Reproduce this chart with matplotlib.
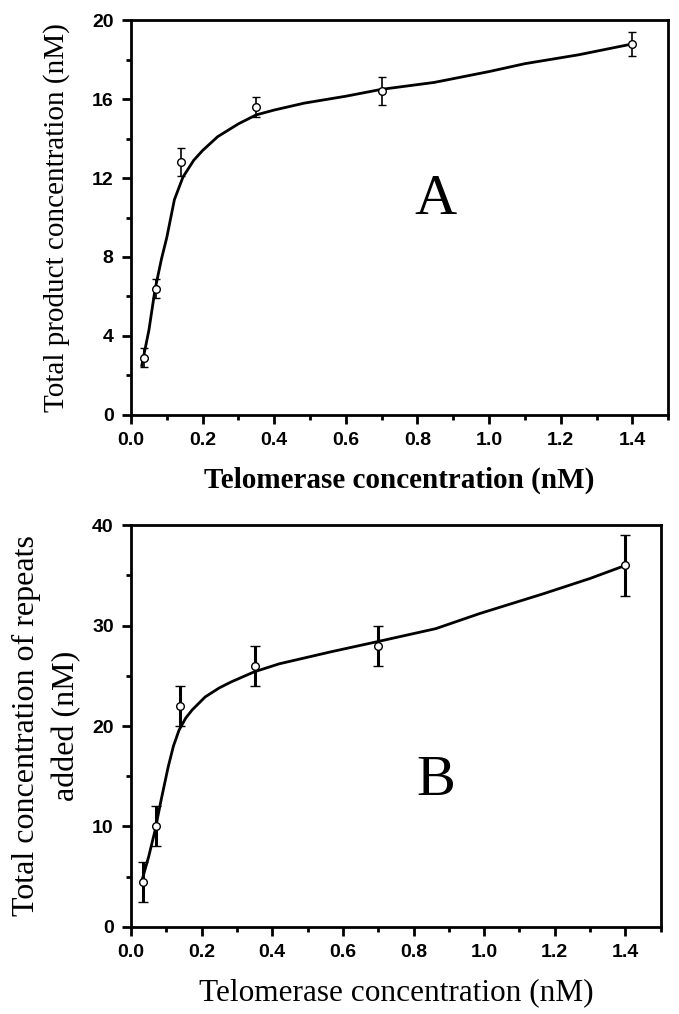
import matplotlib
matplotlib.use("Agg")
import matplotlib.pyplot as plt
from matplotlib.ticker import MultipleLocator

# measured points (telomerase concentration, nM)
conc = [0.035, 0.07, 0.14, 0.35, 0.7, 1.4]

# panel A: total product concentration
prod = [2.9, 6.4, 12.8, 15.6, 16.4, 18.8]
prod_err = [0.5, 0.5, 0.7, 0.5, 0.7, 0.6]
fit_a_x = [0.03, 0.05, 0.067, 0.085, 0.1, 0.121, 0.145, 0.175, 0.2, 0.242,
           0.3, 0.349, 0.4, 0.484, 0.6, 0.7, 0.847, 1.0, 1.1, 1.25, 1.4]
fit_a_y = [2.5, 4.3, 6.35, 7.9, 9.0, 10.9, 12.05, 12.9, 13.4, 14.1,
           14.75, 15.2, 15.45, 15.8, 16.15, 16.5, 16.85, 17.4, 17.8, 18.25, 18.8]

# panel B: total concentration of repeats added
rep = [4.5, 10.0, 22.0, 26.0, 28.0, 36.0]
rep_err = [2.0, 2.0, 2.0, 2.0, 2.0, 3.0]
fit_b_x = [0.03, 0.05, 0.068, 0.085, 0.105, 0.12, 0.136, 0.155, 0.173, 0.21,
           0.25, 0.284, 0.349, 0.42, 0.567, 0.697, 0.863, 0.987, 1.17, 1.3, 1.4]
fit_b_y = [4.5, 7.0, 9.6, 12.6, 15.9, 18.0, 19.6, 20.8, 21.6, 22.9,
           23.8, 24.4, 25.4, 26.2, 27.4, 28.4, 29.7, 31.2, 33.2, 34.7, 36.0]

TICK_FONT = ["Liberation Sans", "DejaVu Sans"]
LABEL_FONT = ["Liberation Serif", "DejaVu Serif"]

fig = plt.figure(figsize=(6.79, 10.14), dpi=100)
ax_a = fig.add_axes([0.193, 0.591, 0.791, 0.389])
ax_b = fig.add_axes([0.193, 0.086, 0.780, 0.396])


def style(ax, ymajor, yminor, ymax):
    ax.set_xlim(0, 1.5)
    ax.set_ylim(0, ymax)
    ax.xaxis.set_major_locator(MultipleLocator(0.2))
    ax.xaxis.set_minor_locator(MultipleLocator(0.1))
    ax.yaxis.set_major_locator(MultipleLocator(ymajor))
    ax.yaxis.set_minor_locator(MultipleLocator(yminor))
    for s in ax.spines.values():
        s.set_linewidth(2)
    ax.tick_params(which="major", direction="out", length=6.5, width=2, pad=6)
    ax.tick_params(which="minor", direction="out", length=3.5, width=2)
    for lab in ax.get_xticklabels() + ax.get_yticklabels():
        lab.set_family(TICK_FONT)
        lab.set_fontweight("bold")
        lab.set_fontsize(14)


# panel A
ax_a.plot(fit_a_x, fit_a_y, color="black", lw=2)
ax_a.errorbar(conc, prod, yerr=prod_err, fmt="o", ms=5.5, mfc="white",
              mec="black", mew=1, ecolor="black", elinewidth=1.2, capsize=3,
              capthick=1.2)
style(ax_a, 4, 2, 20)
ax_a.text(0.85, 10.9, "A", family=LABEL_FONT, fontsize=42, ha="center",
          va="center")
ax_a.set_xlabel("Telomerase concentration (nM)", family=LABEL_FONT,
                fontsize=21, fontweight="bold", labelpad=13)
ax_a.set_ylabel("Total product concentration (nM)", family=LABEL_FONT,
                fontsize=21, labelpad=16)

# panel B
ax_b.plot(fit_b_x, fit_b_y, color="black", lw=2)
ax_b.errorbar(conc, rep, yerr=rep_err, fmt="o", ms=5.5, mfc="white",
              mec="black", mew=1, ecolor="black", elinewidth=2.2, capsize=3.5,
              capthick=2.2)
style(ax_b, 10, 5, 40)
ax_b.text(0.863, 14.5, "B", family=LABEL_FONT, fontsize=42, ha="center",
          va="center")
ax_b.set_xlabel("Telomerase concentration (nM)", family=LABEL_FONT,
                fontsize=22.5, labelpad=12)
ax_b.set_ylabel("Total concentration of repeats\nadded (nM)",
                family=LABEL_FONT, fontsize=23, labelpad=8, linespacing=1.5)

fig.savefig("out.png", dpi=100)
plt.close(fig)
